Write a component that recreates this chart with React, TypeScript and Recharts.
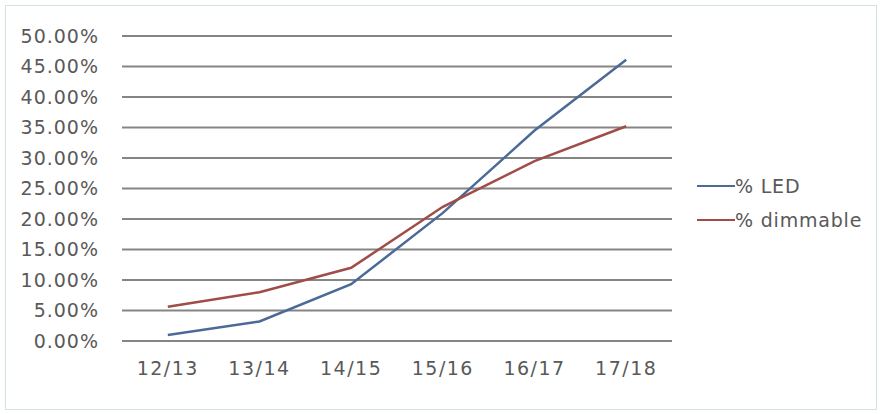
import React from "react";
import {
  LineChart,
  Line,
  XAxis,
  YAxis,
  CartesianGrid,
} from "recharts";

// Seasons on the x axis
const seasons = ["12/13", "13/14", "14/15", "15/16", "16/17", "17/18"];

// Share of products, in percent
const ledShare = [1.0, 3.2, 9.3, 21.0, 34.5, 46.1];
const dimmableShare = [5.6, 8.0, 12.0, 22.0, 29.5, 35.2];

const yTicks = [0, 5, 10, 15, 20, 25, 30, 35, 40, 45, 50];

const seriesNames = ["% LED", "% dimmable"];
const seriesColors = ["#4b6a97", "#a04c48"];

const data = seasons.map((season, i) => ({
  season,
  led: ledShare[i],
  dimmable: dimmableShare[i],
}));

const textColor = "#595959";
const font = "'DejaVu Sans', sans-serif";

const formatPercent = (v: number) => `${v.toFixed(2)}%`;

export default function App() {
  return (
    <div style={{ position: "relative", width: 881, height: 414, background: "#fff" }}>
      <style>{`body{margin:0}`}</style>
      {/* light frame round the whole chart */}
      <div
        style={{
          position: "absolute",
          left: 5,
          top: 5,
          width: 872,
          height: 405,
          border: "1.5px solid #d3e0e5",
          boxSizing: "border-box",
        }}
      />
      <LineChart
        width={881}
        height={414}
        data={data}
        margin={{ top: 36, right: 209, bottom: 0, left: 0 }}
        style={{ position: "absolute", left: 0, top: 0, fontFamily: font }}
      >
        <CartesianGrid vertical={false} stroke="#858585" strokeWidth={1.8} />
        <XAxis
          dataKey="season"
          axisLine={false}
          tickLine={false}
          tickSize={0}
          tickMargin={21}
          height={73}
          padding={{ left: 45.8, right: 45.8 }}
          tick={{ fill: textColor, fontSize: 19, letterSpacing: 1.5 }}
        />
        <YAxis
          domain={[0, 50]}
          ticks={yTicks}
          tickFormatter={formatPercent}
          axisLine={false}
          tickLine={false}
          tickSize={0}
          tickMargin={23}
          width={122}
          interval={0}
          tick={{ fill: textColor, fontSize: 19, letterSpacing: 1 }}
        />
        <Line
          dataKey="led"
          name={seriesNames[0]}
          stroke={seriesColors[0]}
          strokeWidth={2.5}
          dot={false}
          type="linear"
          isAnimationActive={false}
        />
        <Line
          dataKey="dimmable"
          name={seriesNames[1]}
          stroke={seriesColors[1]}
          strokeWidth={2.5}
          dot={false}
          type="linear"
          isAnimationActive={false}
        />
      </LineChart>
      {/* legend, right of the plot */}
      <div
        style={{
          position: "absolute",
          left: 697,
          top: 169,
          fontFamily: font,
          fontSize: 19,
          letterSpacing: 0.8,
          color: textColor,
          lineHeight: "34px",
        }}
      >
        {seriesNames.map((name, i) => (
          <div key={name} style={{ display: "flex", alignItems: "center" }}>
            <span
              style={{
                display: "inline-block",
                width: 38,
                height: 2.5,
                background: seriesColors[i],
              }}
            />
            <span>{name}</span>
          </div>
        ))}
      </div>
    </div>
  );
}
